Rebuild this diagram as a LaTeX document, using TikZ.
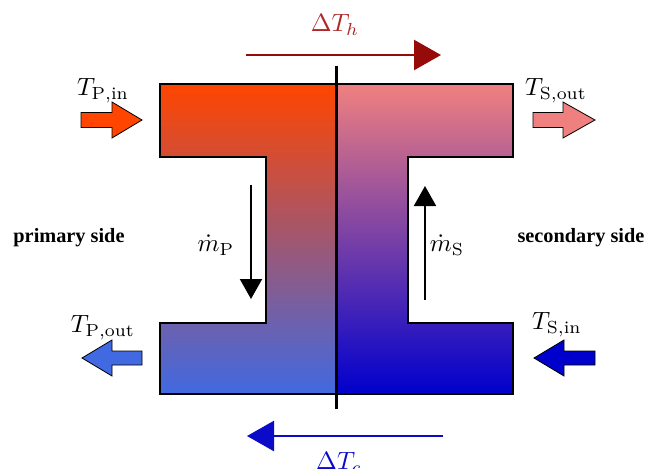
\documentclass[tikz,border=0pt]{standalone}
\usepackage{fontspec}
\newfontfamily\labelfont{Liberation Serif}
\usetikzlibrary{arrows.meta}
\definecolor{pin}{RGB}{255,69,0}
\definecolor{pout}{RGB}{65,105,225}
\definecolor{sout}{RGB}{240,128,128}
\definecolor{sin}{RGB}{0,0,205}
\definecolor{hotc}{RGB}{150,10,10}
\definecolor{hotl}{RGB}{175,40,40}
\definecolor{coldc}{RGB}{10,10,200}
\newcommand\biglbl[1]{\scalebox{2.5}{$#1$}}
\begin{document}
\begin{tikzpicture}[x=1pt,y=-1pt,
  mathlbl/.style={inner sep=0pt,font=\normalsize},
  sidelbl/.style={inner sep=0pt,font=\labelfont\bfseries\fontsize{20.3}{24}\selectfont},
  blockarrow/.style={draw=black,line width=0.8pt,line join=miter},
  hxshape/.style={draw=black,line width=2pt,line join=miter},
  flowarrow/.style={line width=2pt,-{Triangle[length=20pt,width=22pt]}},
  dtarrow/.style={line width=2.5pt,-{Triangle[length=27pt,width=30pt]}}]
\useasboundingbox (0,0) rectangle (646,469);
% primary side shape
\path[hxshape,top color=pin,bottom color=pout]
  (160,84) -- (336,84) -- (336,394) -- (160,394) -- (160,323) -- (266,323)
  -- (266,157) -- (160,157) -- cycle;
% secondary side shape
\path[hxshape,top color=sout,bottom color=sin]
  (336,84) -- (513,84) -- (513,157) -- (408,157) -- (408,323) -- (513,323)
  -- (513,394) -- (336,394) -- cycle;
% separating wall
\coordinate (wt) at (336,66);
\coordinate (wb) at (336,409);
\draw[line width=3pt] (wt) -- (wb);
% block arrows
\draw[blockarrow,fill=pin] (81,112.5) -- (112,112.5) -- (112,102) -- (142,120)
  -- (112,138) -- (112,127.5) -- (81,127.5) -- cycle;
\draw[blockarrow,fill=sout] (533,112.5) -- (563,112.5) -- (563,102) -- (595,120)
  -- (563,138) -- (563,127.5) -- (533,127.5) -- cycle;
\draw[blockarrow,fill=pout] (142,351) -- (112,351) -- (112,340) -- (82,358)
  -- (112,376) -- (112,365) -- (142,365) -- cycle;
\draw[blockarrow,fill=sin] (595,351) -- (564,351) -- (564,340) -- (534,358)
  -- (564,376) -- (564,365) -- (595,365) -- cycle;
% labels
\node[mathlbl] (tpin) at (103,91) {\biglbl{T_{\mathrm{P,in}}}};
\node[mathlbl] (tsout) at (556,91) {\biglbl{T_{\mathrm{S,out}}}};
\node[mathlbl] (tpout) at (103,328) {\biglbl{T_{\mathrm{P,out}}}};
\node[mathlbl] (tsin) at (557,325) {\biglbl{T_{\mathrm{S,in}}}};
\node[sidelbl] (prim) at (69,238) {primary side};
\node[sidelbl] (sec) at (581,238) {secondary side};
% mass flow
\coordinate (mpa) at (251,185);
\coordinate (mpb) at (251,299);
\draw[flowarrow] (mpa) -- (mpb);
\node[mathlbl] (mp) at (216,245) {\biglbl{\dot m_{\mathrm{P}}}};
\coordinate (msa) at (425,300);
\coordinate (msb) at (425,186);
\draw[flowarrow] (msa) -- (msb);
\node[mathlbl] (ms) at (447,245) {\biglbl{\dot m_{\mathrm{S}}}};
% temperature differences
\coordinate (ha) at (246,55);
\coordinate (hb) at (441,55);
\draw[dtarrow,draw=hotc,fill=hotc] (ha) -- (hb);
\node[mathlbl,text=hotl] (dth) at (335,25) {\biglbl{\Delta T_h}};
\coordinate (ca) at (443,436);
\coordinate (cb) at (247,436);
\draw[dtarrow,draw=coldc,fill=coldc] (ca) -- (cb);
\node[mathlbl,text=coldc] (dtc) at (339,463) {\biglbl{\Delta T_c}};
\end{tikzpicture}
\end{document}
